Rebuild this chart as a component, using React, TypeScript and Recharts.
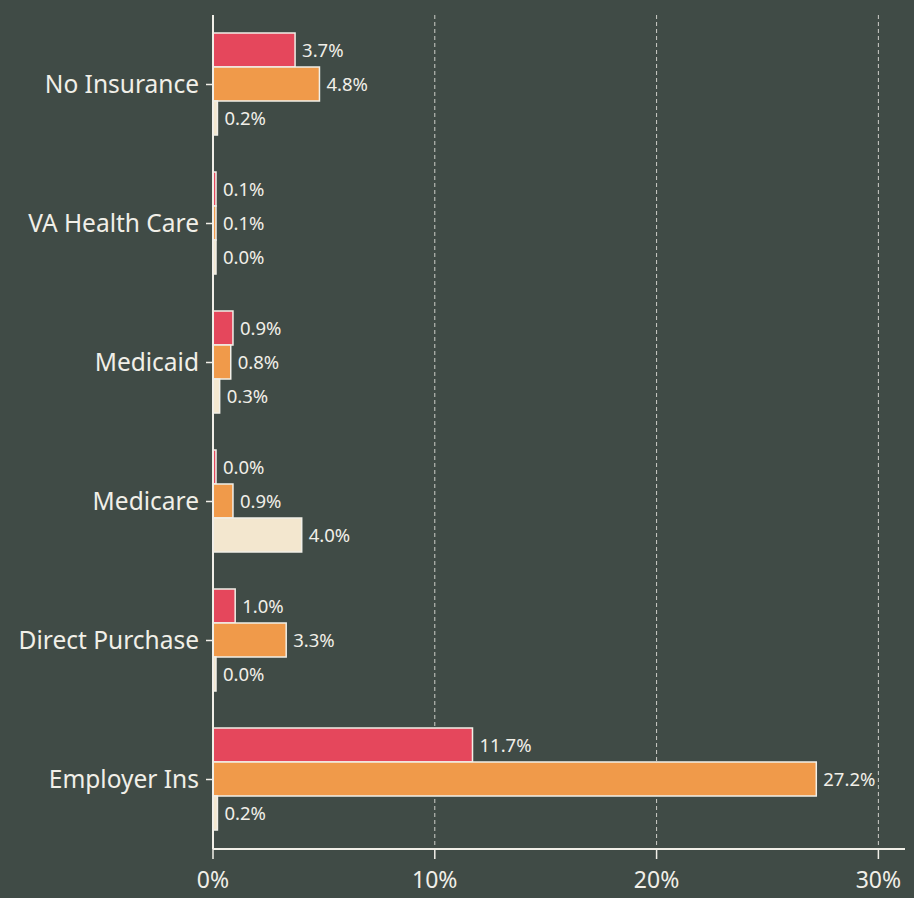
import { BarChart, Bar, XAxis, YAxis, CartesianGrid, LabelList } from 'recharts'

const CATEGORIES = [
  'No Insurance',
  'VA Health Care',
  'Medicaid',
  'Medicare',
  'Direct Purchase',
  'Employer Ins',
]

const RED_VALUES = [3.7, 0.1, 0.9, 0.0, 1.0, 11.7]
const ORANGE_VALUES = [4.8, 0.1, 0.8, 0.9, 3.3, 27.2]
const CREAM_VALUES = [0.2, 0.0, 0.3, 4.0, 0.0, 0.2]

const X_TICKS = [0, 10, 20, 30]
const X_MAX = 31.2

const BG = '#404b46'
const INK = '#f1efe8'
const FONT = '"Noto Sans", "Open Sans", sans-serif'

const SERIES = [
  { key: 'red', color: '#e5475c' },
  { key: 'orange', color: '#f09a4a' },
  { key: 'cream', color: '#f3e7cf' },
]

const fmt = (v: unknown) => `${Number(v).toFixed(1)}%`

export default function App() {
  const data = CATEGORIES.map((name, i) => ({
    name,
    red: RED_VALUES[i],
    orange: ORANGE_VALUES[i],
    cream: CREAM_VALUES[i],
  }))

  return (
    <div
      style={{
        position: 'fixed',
        top: 0,
        left: 0,
        width: 914,
        height: 898,
        background: BG,
        fontFamily: FONT,
      }}
    >
      <BarChart
        width={914}
        height={898}
        data={data}
        layout="vertical"
        margin={{ top: 15, right: 9, left: 0, bottom: 0 }}
        barCategoryGap="13%"
        barGap={0}
      >
        <CartesianGrid
          horizontal={false}
          stroke={INK}
          strokeOpacity={0.8}
          strokeDasharray="4 3"
          verticalCoordinatesGenerator={({ offset }: any) =>
            X_TICKS.slice(1).map((t) => offset.left + (offset.width * t) / X_MAX)
          }
        />
        <XAxis
          type="number"
          domain={[0, X_MAX]}
          ticks={X_TICKS}
          tickFormatter={(v) => `${v}%`}
          height={49}
          axisLine={{ stroke: INK, strokeWidth: 2 }}
          tickLine={{ stroke: INK, strokeWidth: 1.5 }}
          tickSize={10}
          tick={{ fill: INK, fontSize: 23, fontFamily: FONT }}
          tickMargin={13}
        />
        <YAxis
          type="category"
          dataKey="name"
          width={213}
          axisLine={{ stroke: INK, strokeWidth: 2 }}
          tickLine={{ stroke: INK, strokeWidth: 1.5 }}
          tickSize={7}
          tickMargin={7}
          tick={{ fill: INK, fontSize: 24.5, fontFamily: FONT }}
        />
        {SERIES.map((s) => (
          <Bar
            key={s.key}
            dataKey={s.key}
            fill={s.color}
            stroke={INK}
            strokeWidth={1.5}
            minPointSize={3}
            isAnimationActive={false}
          >
            <LabelList
              dataKey={s.key}
              position="right"
              offset={7}
              formatter={fmt}
              style={{ fill: INK, fontSize: 18.5, fontFamily: FONT }}
            />
          </Bar>
        ))}
      </BarChart>
    </div>
  )
}
